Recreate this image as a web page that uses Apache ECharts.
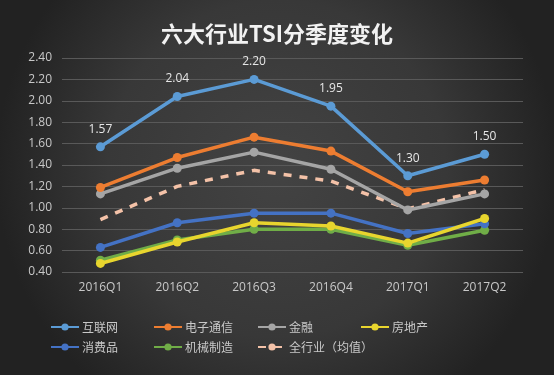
<!DOCTYPE html>
<html><head><meta charset="utf-8">
<script src="https://cdn.jsdelivr.net/npm/echarts@6/dist/echarts.min.js"></script>
<style>html,body{margin:0;padding:0;background:#2e2e2e}#c{width:554px;height:375px}</style>
</head><body><div id="c"></div>
<script>
const categories = ['2016Q1','2016Q2','2016Q3','2016Q4','2017Q1','2017Q2'];
const yTicks = [0.4, 2.4, 0.2];
const internet = [1.57, 2.04, 2.20, 1.95, 1.30, 1.50];
const telecom = [1.19, 1.47, 1.66, 1.53, 1.15, 1.26];
const finance = [1.13, 1.37, 1.52, 1.36, 0.98, 1.13];
const realEstate = [0.48, 0.68, 0.86, 0.83, 0.67, 0.90];
const consumer = [0.63, 0.86, 0.95, 0.95, 0.76, 0.85];
const machinery = [0.51, 0.70, 0.80, 0.80, 0.65, 0.79];
const allAvg = [0.89, 1.20, 1.35, 1.25, 0.99, 1.17];
const names = ['互联网','电子通信','金融','房地产','消费品','机械制造','全行业（均值）'];
const colors = ['#5B9BD5','#ED7D31','#A5A5A5','#E8D52E','#4472C4','#70AD47','#F4C2A8'];
const datas = [internet, telecom, finance, realEstate, consumer, machinery, allAvg];

const chart = echarts.init(document.getElementById('c'));
const series = datas.map((d, i) => {
  const dashed = i === 6;
  return {
    name: names[i], type: 'line', data: d, z: 10 - i,
    symbol: dashed ? 'none' : 'circle', symbolSize: 9,
    itemStyle: {color: colors[i]},
    lineStyle: {width: 3.5, color: colors[i], type: dashed ? [8, 8] : 'solid'},
    label: i === 0 ? {show: true, position: 'top', distance: 7, color: '#e6e6e6', fontSize: 12, fontFamily: 'Open Sans', formatter: p => p.value.toFixed(2)} : {show: false}
  };
});
const legendPos = [[45,316],[148,316],[252,316],[355,316],[45,336],[148,336],[252,336]];
const legends = names.map((n, i) => ({
  data: [n], left: legendPos[i][0], top: legendPos[i][1],
  itemWidth: 28, itemHeight: 9, itemGap: 2,
  textStyle: {color: '#c8c8c8', fontSize: 12, fontFamily: 'Noto Sans CJK SC', padding: [0,0,0,-2]}
}));
chart.setOption({
  backgroundColor: new echarts.graphic.RadialGradient(0.5, 0.45, 0.75, [
    {offset: 0, color: '#434343'}, {offset: 0.6, color: '#383838'}, {offset: 1, color: '#222222'}
  ]),
  animation: false,
  title: {text: '六大行业TSI分季度变化', left: 'center', top: 18,
    textStyle: {color: '#f2f2f2', fontSize: 22, fontWeight: 'bold', fontFamily: 'Noto Sans CJK SC'}},
  legend: legends,
  grid: {left: 62, right: 31, top: 58, bottom: 103},
  xAxis: {type: 'category', data: categories, boundaryGap: true,
    axisLine: {show: false}, axisTick: {show: false},
    axisLabel: {color: '#c8c8c8', fontSize: 12, margin: 10, fontFamily: 'Open Sans'}},
  yAxis: {type: 'value', min: yTicks[0], max: yTicks[1], interval: yTicks[2],
    axisLine: {show: false}, axisTick: {show: false},
    splitLine: {lineStyle: {color: '#595959', width: 1}},
    axisLabel: {color: '#c8c8c8', fontSize: 12, margin: 10, fontFamily: 'Open Sans', formatter: v => v.toFixed(2)}},
  series: series
});
</script></body></html>
